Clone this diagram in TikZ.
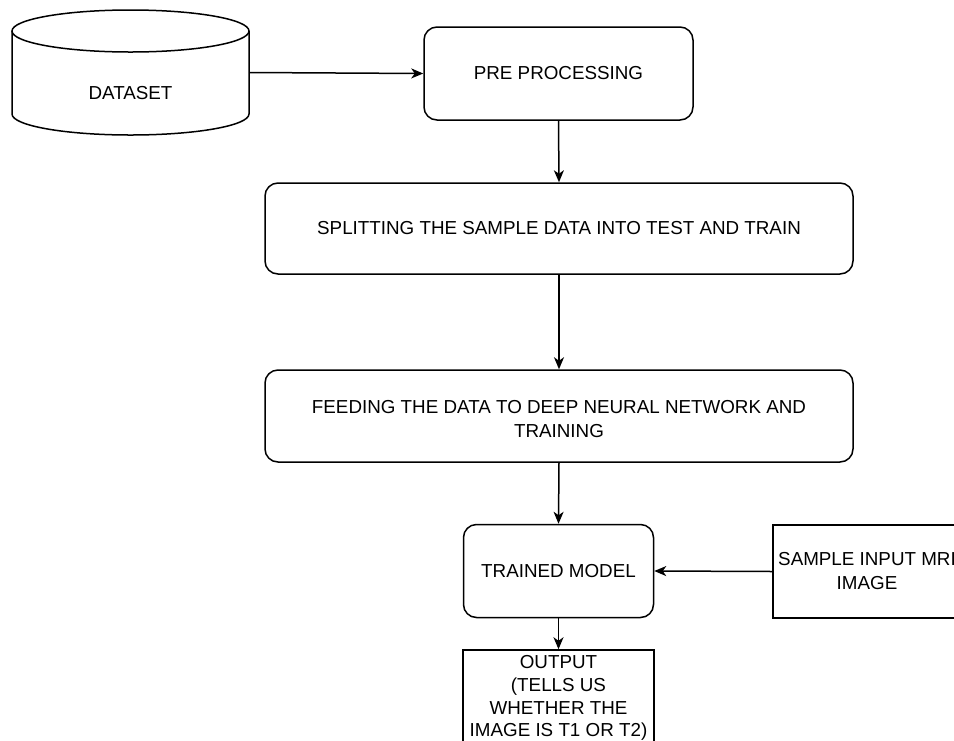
\documentclass[tikz,border=0pt]{standalone}
\usepackage{fontspec}
\setmainfont{Liberation Sans}
\usetikzlibrary{arrows.meta}
\begin{document}
\begin{tikzpicture}[x=1pt,y=-1pt,
  line width=1.5pt,
  every node/.style={font=\fontsize{18.8}{24}\selectfont, inner sep=0pt},
  stepbox/.style={draw, rounded corners=13pt, align=center},
  plainbox/.style={draw, align=center},
  arr/.style={-{Stealth[length=12pt,width=10pt,inset=3.5pt]}}]
  \useasboundingbox (0,0) rectangle (954,740);
  \clip (0,0) rectangle (954,740);

  % database cylinder: full top ellipse, two sides, lower front arc
  \draw (130.5,31) ellipse[x radius=118.5, y radius=21];
  \draw (12,31) -- (12,114)
        arc[start angle=180,end angle=0,x radius=118.5,y radius=21]
        -- (249,31);
  \node[minimum width=237pt, minimum height=125pt] (ds) at (130.5,72.5) {};
  \node (dslabel) at (130.5,93) {DATASET};

  % process steps
  \node[stepbox, minimum width=269pt, minimum height=93pt] (pre) at (558.5,73.5) {PRE PROCESSING};
  \node[stepbox, minimum width=588pt, minimum height=91pt] (split) at (559,228.5)
       {SPLITTING THE SAMPLE DATA INTO TEST AND TRAIN};
  \node[stepbox, minimum width=588pt, minimum height=92pt] (feed) at (559,416) {};
  \node[align=center] (feedtext) at (559,419)
       {FEEDING THE DATA TO DEEP NEURAL NETWORK AND\\TRAINING};
  \node[stepbox, minimum width=190pt, minimum height=93pt] (trained) at (558.5,571) {TRAINED MODEL};
  \node[plainbox, minimum width=188pt, minimum height=93pt] (sample) at (867,571.5)
       {SAMPLE INPUT MRI\\IMAGE};
  \node[plainbox, minimum width=191pt, minimum height=120pt] (output) at (558.5,710) {};
  \node[anchor=north, align=center, font=\fontsize{18.8}{22.6}\selectfont] (outtext) at (558.5,655)
       {OUTPUT\\(TELLS US\\WHETHER THE\\IMAGE IS T1 OR T2)};

  % connectors
  \draw[arr] (ds.east) -- (pre.west);
  \draw[arr] (pre.south) -- (split.north);
  \draw[arr] (split.south) -- (feed.north);
  \draw[arr] (feed.south) -- (trained.north);
  \draw[arr] (sample.west) -- (trained.east);
  \draw[arr] (trained.south) -- (output.north);
\end{tikzpicture}
\end{document}
